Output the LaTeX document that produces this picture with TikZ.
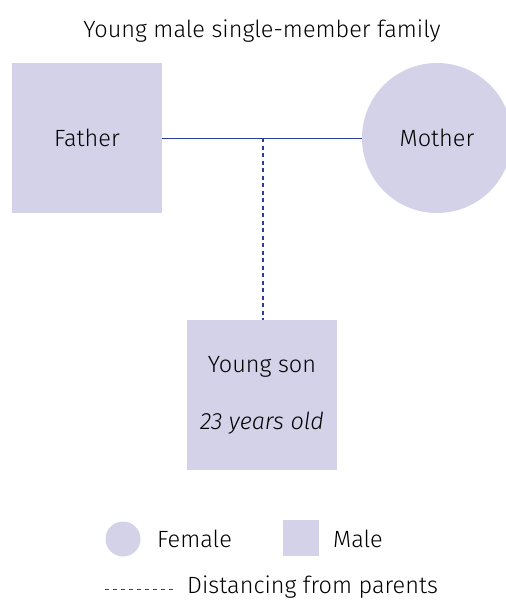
\documentclass[tikz,border=0pt]{standalone}
\usepackage{fontspec}
\setmainfont{Fira Sans Light}
\definecolor{member}{HTML}{D4D2E8}
\definecolor{tie}{HTML}{2B3F98}
\tikzset{
  male/.style={fill=member,minimum size=150pt,inner sep=0pt,font=\fontsize{23.5}{28}\selectfont},
  female/.style={circle,fill=member,minimum size=150pt,inner sep=0pt,font=\fontsize{23.5}{28}\selectfont},
  txt/.style={font=\fontsize{23.5}{28}\selectfont,inner sep=0pt},
  bond/.style={draw=tie,line width=1pt},
  distline/.style={draw=tie,line width=1.2pt,dash pattern=on 4pt off 3.5pt}
}
\begin{document}
\begin{tikzpicture}[x=1pt,y=-1pt]
  \useasboundingbox (0,0) rectangle (506,600);
  \node[txt] (title) at (262,31) {Young male single-member family};
  \node[male] (father) at (87,138) {Father};
  \node[female] (mother) at (437,138) {Mother};
  \node[male,align=center] (son) at (262,395) {Young son\\[29pt]\textit{23 years old}};
  \coordinate (mid) at (263,138);
  \begin{scope}
    \draw[bond] (father) -- (mother);
    \draw[distline] (mid) -- (son.north -| mid);
  \end{scope}
  % legend
  \node[circle,fill=member,minimum size=35pt,inner sep=0pt] (femkey) at (123,539) {};
  \node[txt,anchor=west] (femtxt) at (157,539) {Female};
  \node[fill=member,minimum size=36pt,inner sep=0pt] (malekey) at (301,538) {};
  \node[txt,anchor=west] (maletxt) at (333,539) {Male};
  \coordinate (dstart) at (105,589);
  \coordinate (dend) at (173,589);
  \node[txt,anchor=west] (disttxt) at (187,587) {Distancing from parents};
  \draw[distline,dash pattern=on 4pt off 4pt,line width=0.9pt] (dstart) -- (dend);
\end{tikzpicture}
\end{document}
